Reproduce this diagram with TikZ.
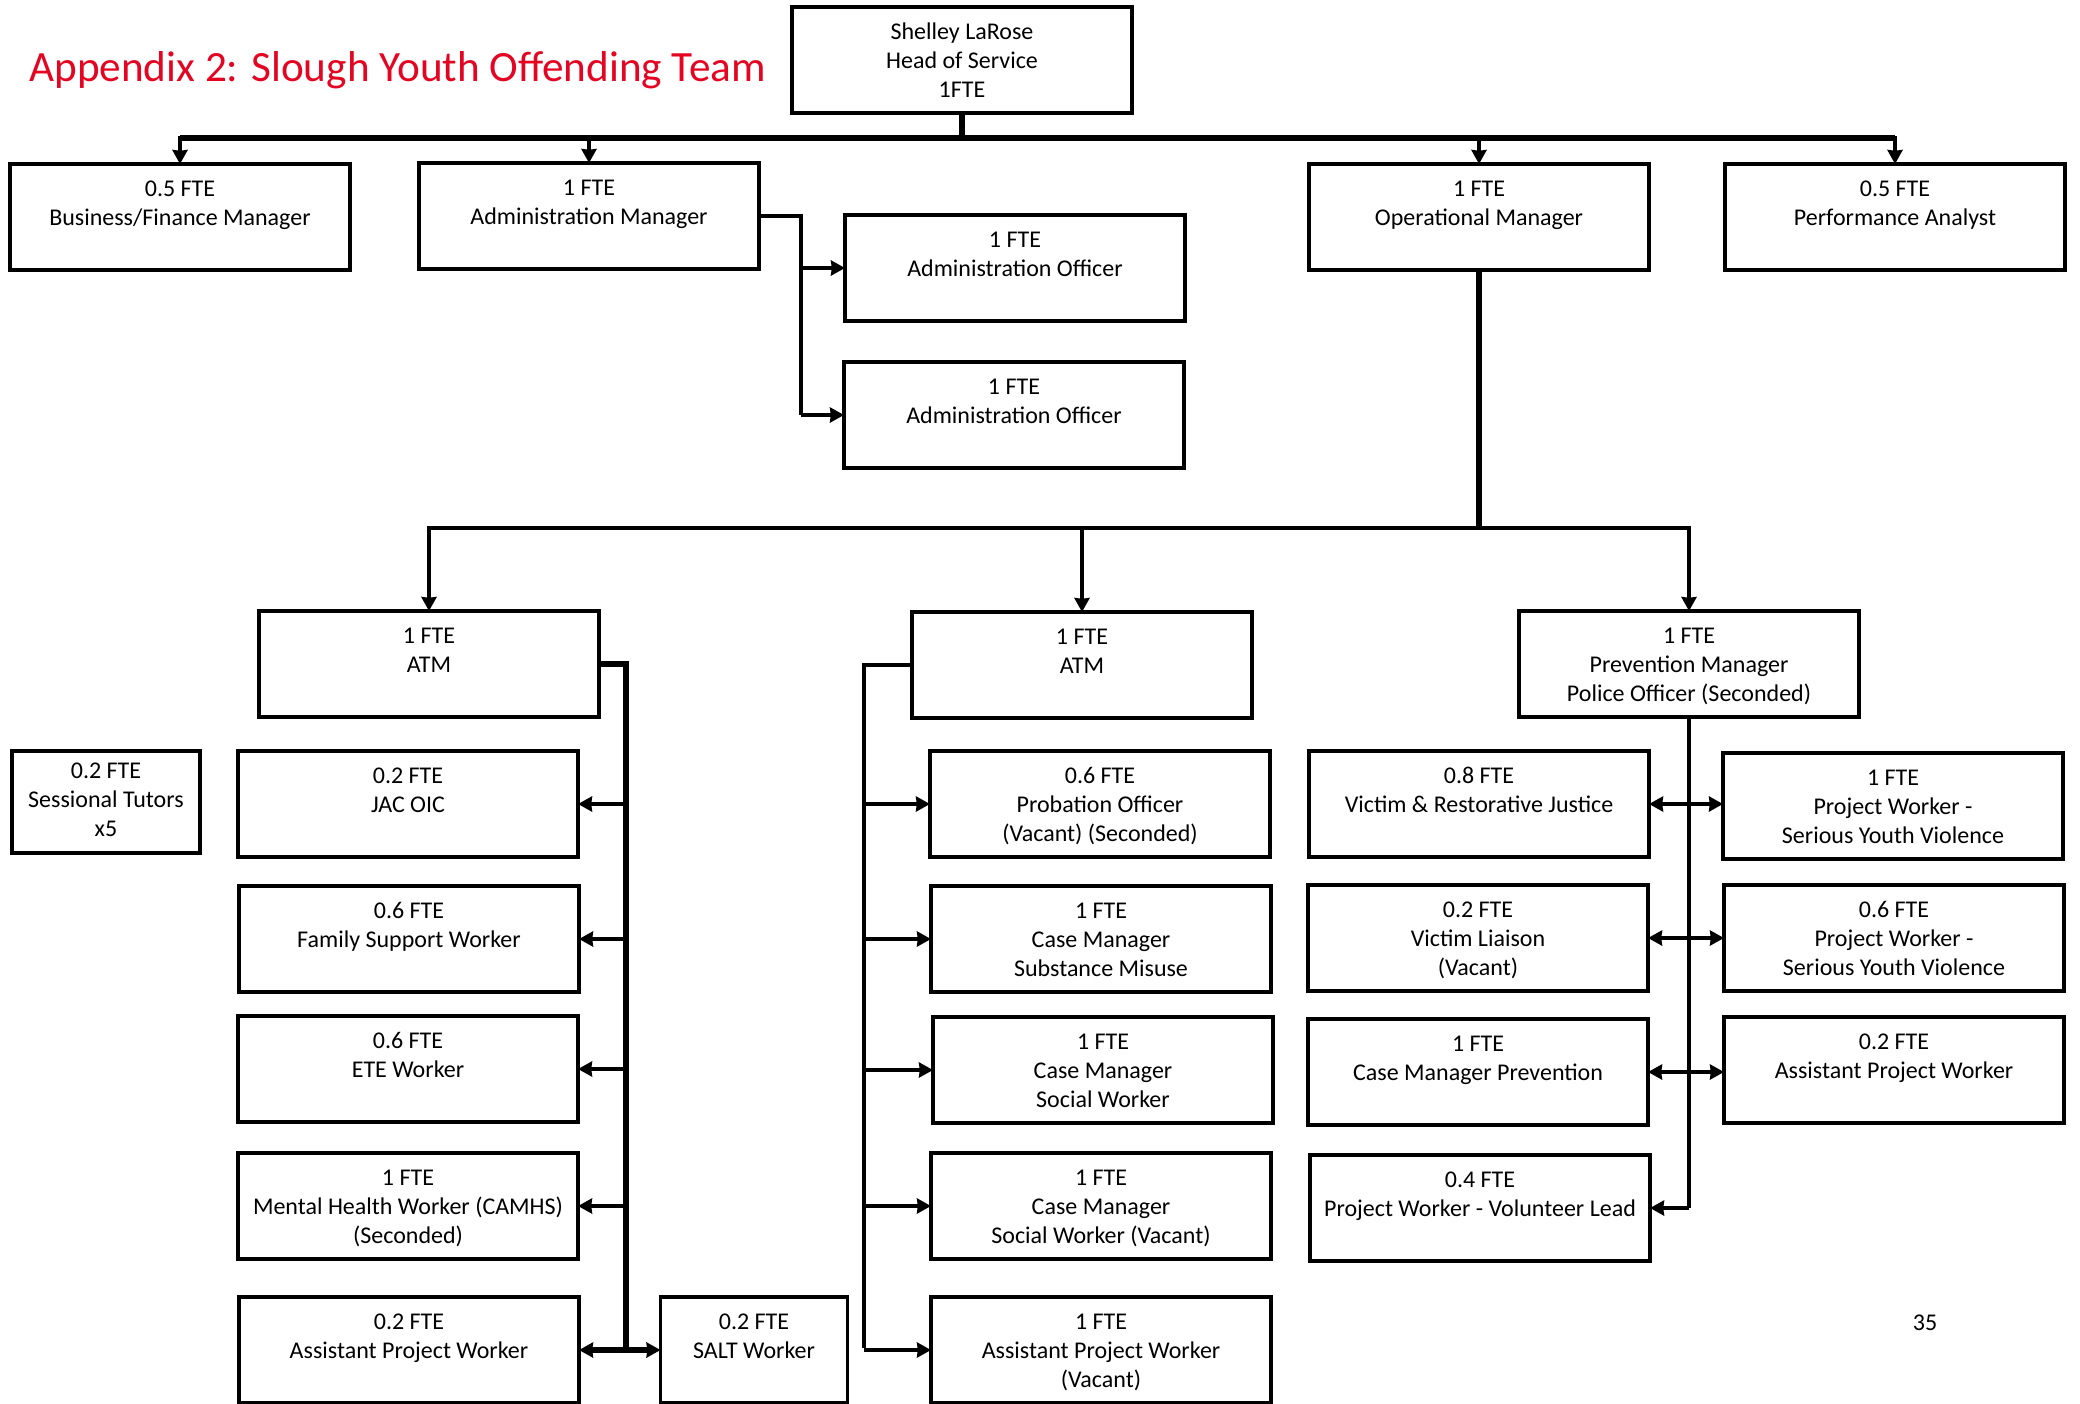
\documentclass[tikz,border=0pt]{standalone}
\usepackage{fontspec}
\setmainfont{Carlito}
\usetikzlibrary{arrows.meta}
\newlength{\du}
\setlength{\du}{0.5pt}
\definecolor{titlecolor}{rgb}{0.890000, 0.020000, 0.130000}
\newcommand{\posttext}[2][170pt]{\parbox[c][53pt][t]{#1}{\centering\rule{0pt}{16.3pt}#2}}

\begin{document}
\begin{tikzpicture}[
  every node/.style={font=\fontsize{12}{14.5}\selectfont},
  post/.style={draw, line width=1.9pt, inner sep=0pt, outer sep=0pt},
  thinline/.style={line width=1.7pt},
  thickline/.style={line width=2.6pt},
  tip/.style={-{Stealth[length=7pt,width=7.5pt,inset=0.4pt]}},
  twotip/.style={{Stealth[length=7pt,width=7.5pt,inset=0.4pt]}-{Stealth[length=7pt,width=7.5pt,inset=0.4pt]}}]
\pgftransformxscale{1.000000}
\pgftransformyscale{-1.000000}
\useasboundingbox (0\du,0\du) rectangle (2080\du,1403\du);
% title
\node[anchor=west, inner sep=0pt, text=titlecolor, font=\fontsize{21.6}{26}\selectfont] (title) at (29\du,70\du) {Appendix 2: Slough Youth Offending Team};
% head of service
\node[post] (head) at (962\du,60\du) {\posttext{Shelley LaRose\\Head of Service\\1FTE}};
% first row
\node[post] (bizfin) at (180\du,217\du) {\posttext{0.5 FTE\\Business/Finance Manager}};
\node[post] (adminmgr) at (589\du,216\du) {\posttext{1 FTE\\Administration Manager}};
\node[post] (opmgr) at (1479\du,217\du) {\posttext{1 FTE\\Operational Manager}};
\node[post] (perf) at (1895\du,217\du) {\posttext{0.5 FTE\\Performance Analyst}};
\node[post] (adminoff1) at (1015\du,268\du) {\posttext{1 FTE\\Administration Officer}};
\node[post] (adminoff2) at (1014\du,415\du) {\posttext{1 FTE\\Administration Officer}};
% team managers
\node[post] (atmleft) at (429\du,664\du) {\posttext{1 FTE\\ATM}};
\node[post] (atmmid) at (1082\du,665\du) {\posttext{1 FTE\\ATM}};
\node[post] (prevmgr) at (1689\du,664\du) {\posttext{1 FTE\\Prevention Manager\\Police Officer (Seconded)}};
% left team
\node[post] (tutors) at (106\du,802\du) {\parbox[c][51pt][t]{94pt}{\centering\rule{0pt}{13.6pt}0.2 FTE\\Sessional Tutors\\x5}};
\node[post] (jac) at (408\du,804\du) {\posttext{0.2 FTE\\JAC OIC}};
\node[post] (family) at (409\du,939\du) {\posttext{0.6 FTE\\Family Support Worker}};
\node[post] (ete) at (408\du,1069\du) {\posttext{0.6 FTE\\ETE Worker}};
\node[post] (camhs) at (408\du,1206\du) {\posttext{1 FTE\\Mental Health Worker (CAMHS)\\(Seconded)}};
\node[post] (apwleft) at (409\du,1350\du) {\posttext{0.2 FTE\\Assistant Project Worker}};
\node[post] (salt) at (754\du,1350\du) {\posttext[93.5pt]{0.2 FTE\\SALT Worker}};
% middle team
\node[post] (probation) at (1100\du,804\du) {\posttext{0.6 FTE\\Probation Officer\\(Vacant) (Seconded)}};
\node[post] (cmsubst) at (1101\du,939\du) {\posttext{1 FTE\\Case Manager\\Substance Misuse}};
\node[post] (cmsocial) at (1103\du,1070\du) {\posttext{1 FTE\\Case Manager\\Social Worker}};
\node[post] (cmvacant) at (1101\du,1206\du) {\posttext{1 FTE\\Case Manager\\Social Worker (Vacant)}};
\node[post] (apwmid) at (1101\du,1350\du) {\posttext{1 FTE\\Assistant Project Worker\\(Vacant)}};
% prevention team
\node[post] (victimrj) at (1479\du,804\du) {\posttext{0.8 FTE\\Victim \& Restorative Justice}};
\node[post] (liaison) at (1478\du,938\du) {\posttext{0.2 FTE\\Victim Liaison\\(Vacant)}};
\node[post] (cmprev) at (1478\du,1072\du) {\posttext{1 FTE\\Case Manager Prevention}};
\node[post] (volunteer) at (1480\du,1208\du) {\posttext{0.4 FTE\\Project Worker - Volunteer Lead}};
\node[post] (syv1) at (1893\du,806\du) {\posttext{1 FTE\\Project Worker -\\Serious Youth Violence}};
\node[post] (syv2) at (1894\du,938\du) {\posttext{0.6 FTE\\Project Worker -\\Serious Youth Violence}};
\node[post] (apwright) at (1894\du,1070\du) {\posttext{0.2 FTE\\Assistant Project Worker}};
% page number
\node[inner sep=0pt] (pageno) at (1925\du,1323\du) {35};
% junctions
\coordinate (topbus) at (962\du,138\du);
\coordinate (adminbus) at (801\du,216\du);
\coordinate (opbus) at (1479\du,528\du);
\coordinate (leftspine) at (626\du,1350\du);
\coordinate (midspine) at (864\du,1348\du);
\coordinate (prevspine) at (1689\du,1208\du);
% head of service links
\draw[thickline] (head) -- (topbus);
\draw[thickline] (bizfin.north |- topbus) -- (perf.north |- topbus);
\draw[thinline, tip] (topbus) -| (bizfin);
\draw[thinline, tip] (topbus) -| (adminmgr);
\draw[thinline, tip] (topbus) -| (opmgr);
\draw[thinline, tip] (topbus) -| (perf);
% administration links
\draw[thinline] (adminmgr.east) -- (adminbus) -- (adminbus |- adminoff2.west);
\draw[thinline, tip] (adminbus |- adminoff1.west) -- (adminoff1.west);
\draw[thinline, tip] (adminbus |- adminoff2.west) -- (adminoff2.west);
% operational links
\draw[thickline] (opmgr) -- (opbus);
\draw[thinline] (atmleft.north |- opbus) -- (prevmgr.north |- opbus);
\draw[thinline, tip] (opbus) -| (atmleft);
\draw[thinline, tip] (opbus) -| (atmmid);
\draw[thinline, tip] (opbus) -| (prevmgr);
% left team links
\draw[thickline] (atmleft.east) -| (leftspine);
\foreach \post in {jac,family,ete,camhs}
  \draw[thinline, tip] (\post.east -| leftspine) -- (\post.east);
\draw[thickline, twotip] (apwleft.east) -- (salt.west);
% middle team links
\draw[thinline] (atmmid.west) -| (midspine);
\foreach \post in {probation,cmsubst,cmsocial,cmvacant,apwmid}
  \draw[thinline, tip] (\post.west -| midspine) -- (\post.west);
% prevention team links
\draw[thinline] (prevmgr) -- (prevspine);
\draw[thinline, tip] (prevspine) -- (volunteer.east);
\draw[thinline, twotip] (victimrj.east) -- (victimrj.east -| syv1.west);
\draw[thinline, twotip] (liaison.east) -- (liaison.east -| syv2.west);
\draw[thinline, twotip] (cmprev.east) -- (cmprev.east -| apwright.west);
\end{tikzpicture}
\end{document}
